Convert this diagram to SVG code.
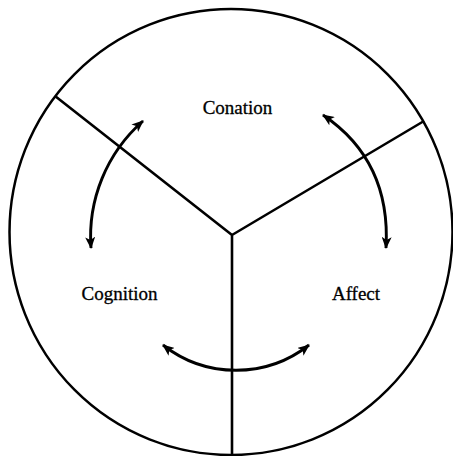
<svg xmlns="http://www.w3.org/2000/svg" width="453" height="456" viewBox="0 0 453 456">
<style>
.frame{fill:none;stroke:#000;stroke-width:2.5}
.div{fill:none;stroke:#000;stroke-width:2.6}
.arr{fill:none;stroke:#000;stroke-width:2.9;marker-start:url(#ah);marker-end:url(#ah)}
.lbl{font-family:"Liberation Serif","Times New Roman",serif;font-size:19px;fill:#000;stroke:#000;stroke-width:0.3;text-anchor:middle}
</style>
<defs>
<marker id="ah" viewBox="0 0 12 10" refX="11" refY="5" markerWidth="12" markerHeight="10" markerUnits="userSpaceOnUse" orient="auto-start-reverse">
<path d="M0,0 L12,5 L0,10 L3,5 Z" fill="#000"/>
</marker>
</defs>
<rect width="453" height="456" fill="#fff"/>
<g id="circle"><ellipse class="frame" cx="231" cy="232" rx="221.5" ry="223"/></g>
<g id="dividers">
<path class="div" d="M232,235 L55,96 M232,235 L424,121 M232,235 L232,456"/>
</g>
<g id="conation"><text class="lbl" x="237.5" y="114">Conation</text></g>
<g id="cognition"><text class="lbl" x="119.5" y="300">Cognition</text></g>
<g id="affect"><text class="lbl" x="356" y="300">Affect</text></g>
<g id="connectors">
<path class="arr" d="M143,121 A154,154 0 0 0 91,248"/>
<path class="arr" d="M323,115 C360,140 390,180 386,248"/>
<path class="arr" d="M163,345 A118,118 0 0 0 309,345"/>
</g>
</svg>
